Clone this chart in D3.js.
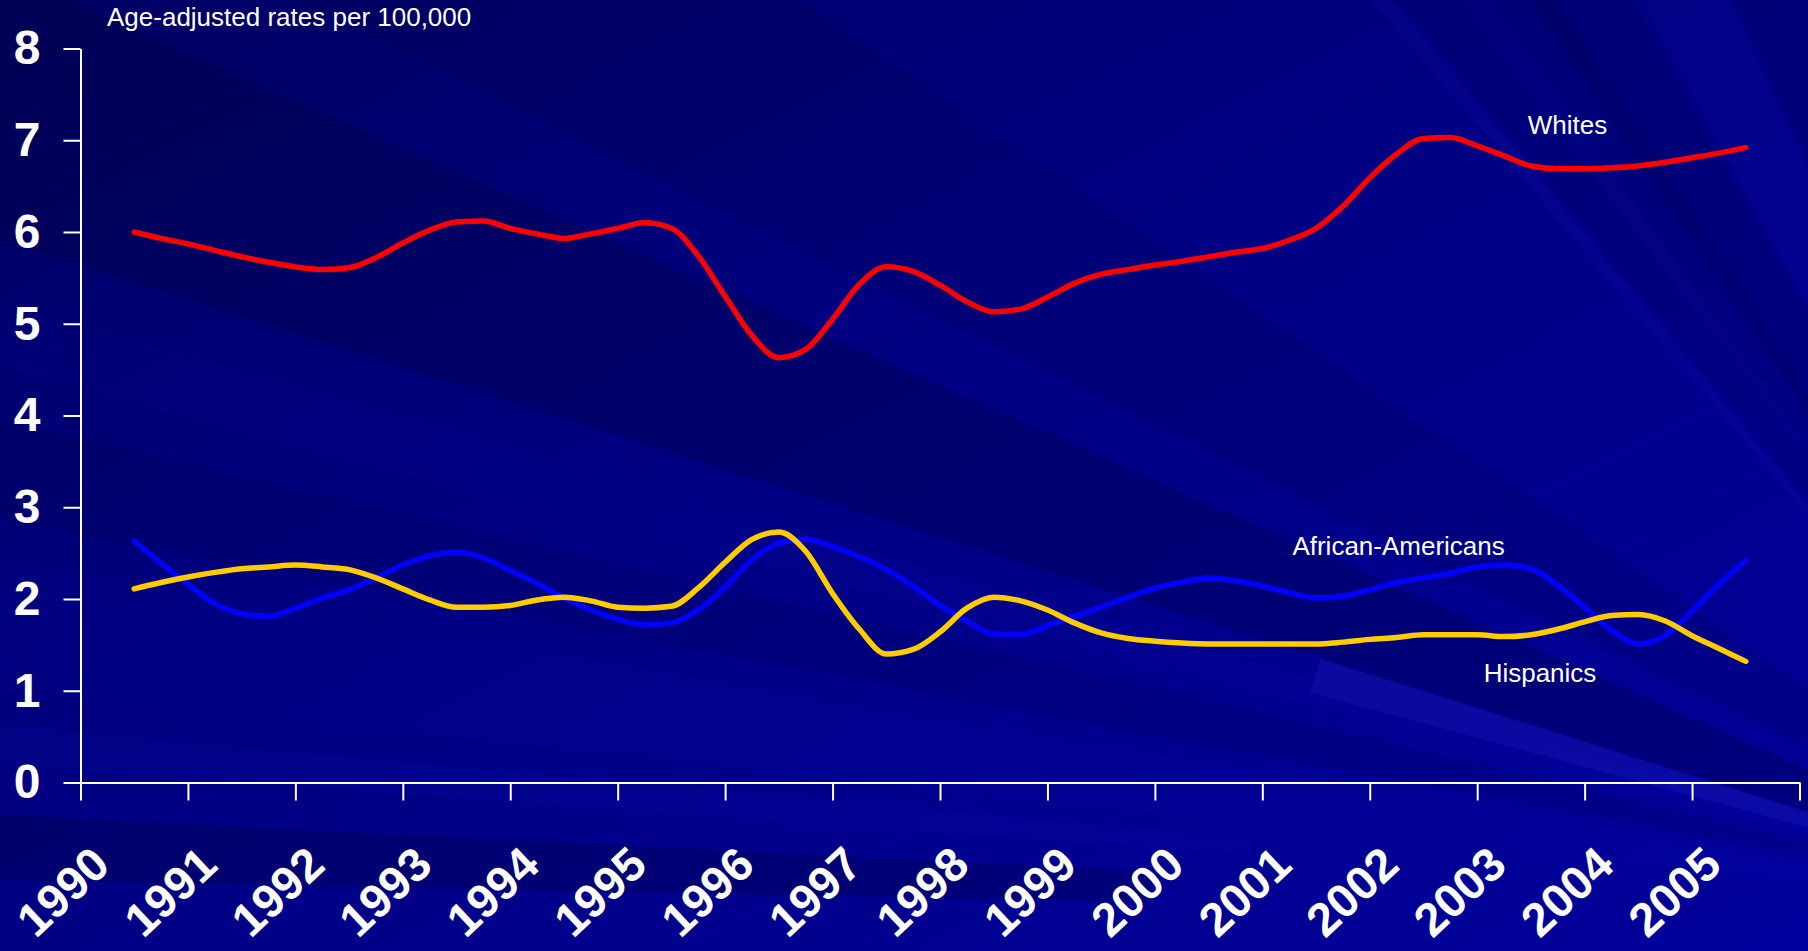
<!DOCTYPE html>
<html>
<head>
<meta charset="utf-8">
<script src="https://cdnjs.cloudflare.com/ajax/libs/d3/7.8.5/d3.min.js"></script>
<style>
  html, body { margin: 0; padding: 0; background: #000080; overflow: hidden; }
  svg text { font-family: "Liberation Sans", Arial, Helvetica, sans-serif; fill: #ffffff; }
</style>
</head>
<body>
<svg class="chart"></svg>
<script>
// tick labels
const years = [1990, 1991, 1992, 1993, 1994, 1995, 1996, 1997, 1998, 1999, 2000, 2001, 2002, 2003, 2004, 2005];
const yTicks = [0, 1, 2, 3, 4, 5, 6, 7, 8];

// the lines are sampled every quarter year, first point in the middle of 1990
const samplePos = d3.range(1990.5, 2005.51, 0.25);

// age-adjusted rates per 100,000
const whites = [6.00, 5.93, 5.87, 5.80, 5.73, 5.67, 5.62, 5.59, 5.61, 5.72, 5.88, 6.02,
    6.11, 6.12, 6.04, 5.98, 5.93, 5.98, 6.04, 6.10, 6.04, 5.74, 5.30, 4.87,
    4.63, 4.72, 5.05, 5.43, 5.62, 5.57, 5.42, 5.24, 5.13, 5.16, 5.29, 5.44,
    5.54, 5.59, 5.64, 5.68, 5.73, 5.78, 5.82, 5.91, 6.04, 6.28, 6.59, 6.85,
    7.02, 7.03, 6.94, 6.83, 6.72, 6.69, 6.69, 6.70, 6.72, 6.76, 6.81, 6.86, 6.92];
const africanAmericans = [2.63, 2.39, 2.16, 1.95, 1.84, 1.81, 1.90, 2.01, 2.10, 2.23, 2.37, 2.47,
    2.51, 2.45, 2.31, 2.17, 2.01, 1.88, 1.78, 1.72, 1.74, 1.88, 2.13, 2.43,
    2.61, 2.65, 2.57, 2.46, 2.32, 2.14, 1.93, 1.76, 1.62, 1.61, 1.71, 1.81,
    1.91, 2.02, 2.12, 2.18, 2.23, 2.20, 2.14, 2.07, 2.01, 2.03, 2.10, 2.18,
    2.23, 2.28, 2.35, 2.37, 2.33, 2.15, 1.91, 1.66, 1.51, 1.60, 1.87, 2.16, 2.42];
const hispanics = [2.11, 2.18, 2.24, 2.29, 2.33, 2.35, 2.37, 2.35, 2.32, 2.23, 2.11, 1.99,
    1.91, 1.91, 1.93, 1.99, 2.02, 1.98, 1.91, 1.90, 1.92, 2.12, 2.40, 2.65,
    2.73, 2.52, 2.06, 1.67, 1.40, 1.45, 1.64, 1.90, 2.02, 1.98, 1.88, 1.74,
    1.63, 1.57, 1.54, 1.52, 1.51, 1.51, 1.51, 1.51, 1.51, 1.53, 1.56, 1.58,
    1.61, 1.61, 1.61, 1.59, 1.61, 1.67, 1.75, 1.82, 1.83, 1.76, 1.60, 1.46, 1.32];

const seriesNames = ["Whites", "African-Americans", "Hispanics"];

var width = 1808;
var height = 951;

var svg = d3.select(".chart")
    .attr("width", width)
    .attr("height", height);

// background: navy with faint rays coming from the lower right
var defs = svg.append("defs");
var grad = defs.append("linearGradient")
    .attr("id", "bg")
    .attr("x1", "0").attr("y1", "0")
    .attr("x2", "1").attr("y2", "1");
grad.append("stop").attr("offset", "0%").attr("stop-color", "#000062");
grad.append("stop").attr("offset", "40%").attr("stop-color", "#000080");
grad.append("stop").attr("offset", "100%").attr("stop-color", "#00009c");

svg.append("rect")
    .attr("width", width)
    .attr("height", height)
    .attr("fill", "url(#bg)");

var focus = [2150, 920];
var rays = [
    {from: [0, -30], to: [0, 240], r0: 0, r1: 5000, color: "#000030", op: 0.25},
    {from: [300, 0], to: [800, 0], r0: 0, r1: 5000, color: "#000030", op: 0.12},
    {from: [0, 300], to: [0, 370], r0: 0, r1: 5000, color: "#2a2aff", op: 0.035},
    {from: [0, 420], to: [0, 520], r0: 0, r1: 5000, color: "#000030", op: 0.12},
    {from: [0, 560], to: [0, 690], r0: 0, r1: 5000, color: "#2a2aff", op: 0.035},
    {from: [0, 725], to: [0, 765], r0: 900, r1: 5000, color: "#2a2aff", op: 0.05},
    {from: [0, 815], to: [0, 880], r0: 1000, r1: 5000, color: "#000030", op: 0.25},
    {from: [1315, 657], to: [1315, 694], r0: 0, r1: 870, color: "#5050ff", op: 0.13},
    {from: [1371, 0], to: [1392, 0], r0: 0, r1: 5000, color: "#3030ff", op: 0.06},
    {from: [1462, 0], to: [1488, 0], r0: 0, r1: 5000, color: "#3030ff", op: 0.06},
    {from: [1529, 0], to: [1633, 0], r0: 0, r1: 5000, color: "#000030", op: 0.15},
    {from: [1640, 0], to: [1730, 0], r0: 0, r1: 5000, color: "#3030ff", op: 0.04},
    {from: [1735, 0], to: [1808, 0], r0: 0, r1: 5000, color: "#000030", op: 0.15},
    {from: [1808, 390], to: [1808, 500], r0: 0, r1: 5000, color: "#000030", op: 0.12}
];

function rayPoly(r) {
    var a1 = Math.atan2(r.from[1] - focus[1], r.from[0] - focus[0]);
    var a2 = Math.atan2(r.to[1] - focus[1], r.to[0] - focus[0]);
    var pts = [
        [focus[0] + r.r0 * Math.cos(a1), focus[1] + r.r0 * Math.sin(a1)],
        [focus[0] + r.r1 * Math.cos(a1), focus[1] + r.r1 * Math.sin(a1)],
        [focus[0] + r.r1 * Math.cos(a2), focus[1] + r.r1 * Math.sin(a2)],
        [focus[0] + r.r0 * Math.cos(a2), focus[1] + r.r0 * Math.sin(a2)]
    ];
    return pts.map(function(p) { return p.join(","); }).join(" ");
}

svg.append("g")
    .selectAll("polygon")
    .data(rays)
    .enter().append("polygon")
    .attr("points", rayPoly)
    .attr("fill", function(d) { return d.color; })
    .attr("fill-opacity", function(d) { return d.op; });

var x = d3.scaleLinear()
    .domain([1990, 2006])
    .range([80.5, 1799.5]);

var y = d3.scaleLinear()
    .domain([0, 8])
    .range([782.5, 48.5]);

// add the y Axis
var yAxis = svg.append("g")
    .attr("transform", "translate(" + x(1990) + ",0)")
    .attr("color", "#ffffff")
    .call(d3.axisLeft(y).tickValues(yTicks).tickSize(17).tickSizeOuter(0).tickPadding(23));
yAxis.selectAll("path, line").attr("stroke-width", 2);
yAxis.selectAll("text")
    .attr("font-size", 48)
    .attr("font-weight", "bold")
    .attr("font-family", "Liberation Sans, Arial, sans-serif");

// add the x Axis
var xAxis = svg.append("g")
    .attr("transform", "translate(0," + y(0) + ")")
    .attr("color", "#ffffff")
    .call(d3.axisBottom(x).tickValues(years.concat([2006])).tickSize(18).tickSizeOuter(0).tickFormat(""));
xAxis.selectAll("path, line").attr("stroke-width", 2);

// year labels, turned like in the slide
svg.selectAll(".year")
    .data(years)
    .enter().append("text")
    .attr("class", "year")
    .attr("text-anchor", "end")
    .attr("font-size", 47)
    .attr("font-weight", "bold")
    .attr("transform", function(d) { return "translate(" + (x(d + 0.5) - 22) + ",868) rotate(-43)"; })
    .text(function(d) { return d; });

// title of the y axis
svg.append("text")
    .attr("x", 107)
    .attr("y", 26)
    .attr("font-size", 26)
    .text("Age-adjusted rates per 100,000");

var line = d3.line()
    .x(function(d, i) { return x(samplePos[i]); })
    .y(function(d) { return y(d); })
    .curve(d3.curveMonotoneX);

var series = [
    {name: seriesNames[0], values: whites, color: "#ff0000", label: [2003.47, 7.07]},
    {name: seriesNames[1], values: africanAmericans, color: "#0000ff", label: [2001.28, 2.48]},
    {name: seriesNames[2], values: hispanics, color: "#ffcc00", label: [2003.06, 1.10]}
];

svg.selectAll(".series")
    .data(series)
    .enter().append("path")
    .attr("class", "series")
    .attr("d", function(d) { return line(d.values); })
    .attr("fill", "none")
    .attr("stroke", function(d) { return d.color; })
    .attr("stroke-width", 5.5)
    .attr("stroke-linecap", "round")
    .attr("stroke-linejoin", "round");

svg.selectAll(".serieslabel")
    .data(series)
    .enter().append("text")
    .attr("class", "serieslabel")
    .attr("x", function(d) { return x(d.label[0]); })
    .attr("y", function(d) { return y(d.label[1]); })
    .attr("font-size", 26)
    .text(function(d) { return d.name; });
</script>
</body>
</html>
